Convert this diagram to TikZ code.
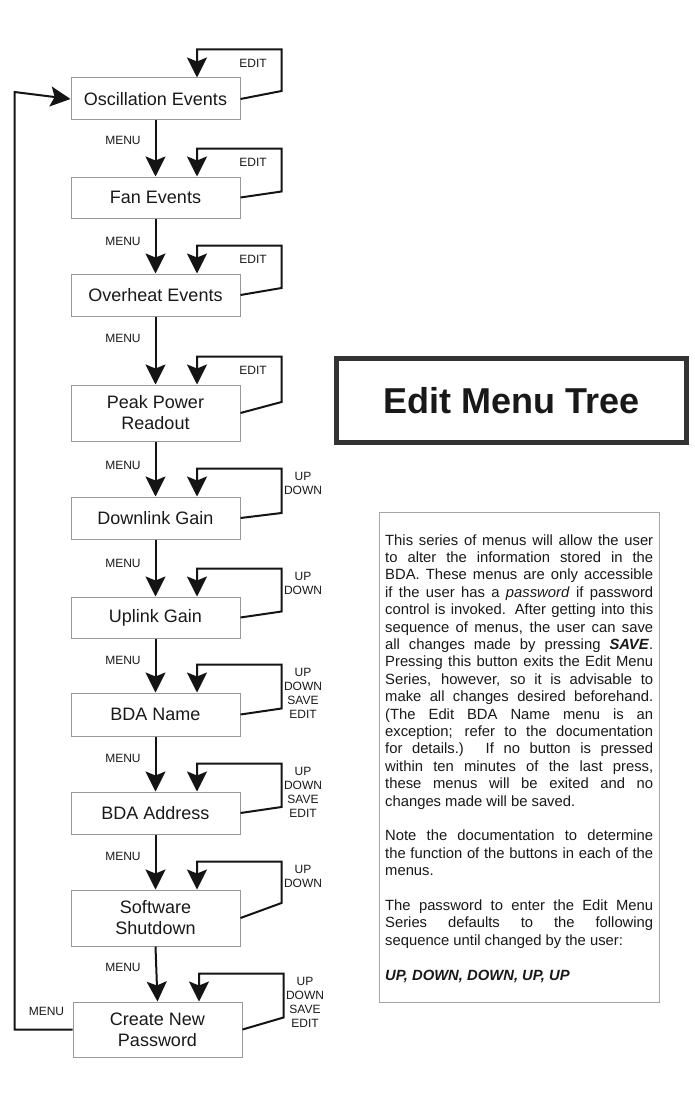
\documentclass[tikz,border=0pt]{standalone}
\usepackage{fontspec}
\setmainfont{Liberation Sans}
\usetikzlibrary{arrows.meta,calc}
\begin{document}
\begin{tikzpicture}[x=1pt,y=-1pt,
  menubox/.style={draw=black!40, line width=1pt, minimum width=169pt, inner sep=0pt, align=center, font=\fontsize{18}{21}\selectfont, text=black!90, fill=white},
  flow/.style={line width=2pt, draw=black!92, -{Stealth[length=20pt,width=20pt,inset=4pt]}},
  lbl/.style={font=\fontsize{12}{14}\selectfont, inner sep=0pt, align=center, text=black!90},
]
\useasboundingbox (0,0) rectangle (695,1097);
\fill[white] (0,0) rectangle (695,1097);

% menu boxes
\node[menubox, minimum height=42pt] (osc)  at (155.5,99)    {Oscillation Events};
\node[menubox, minimum height=41pt] (fan)  at (155.5,197.5) {Fan Events};
\node[menubox, minimum height=42pt] (over) at (155.5,295)   {Overheat Events};
\node[menubox, minimum height=56pt] (peak) at (155.5,413)   {Peak Power\\Readout};
\node[menubox, minimum height=42pt] (down) at (155.5,518)   {Downlink Gain};
\node[menubox, minimum height=41pt] (upg)  at (155.5,617.5) {Uplink Gain};
\node[menubox, minimum height=43pt] (name) at (155.5,714.5) {BDA Name};
\node[menubox, minimum height=42pt] (addr) at (155.5,813)   {BDA Address};
\node[menubox, minimum height=56pt] (soft) at (155.5,918)   {Software\\Shutdown};
\node[menubox, minimum height=55pt] (pass) at (157.5,1029.5){Create New\\Password};

% main MENU arrows
\draw[flow] (osc.south)  -- (fan.north);
\draw[flow] (fan.south)  -- (over.north);
\draw[flow] (over.south) -- (peak.north);
\draw[flow] (peak.south) -- (down.north);
\draw[flow] (down.south) -- (upg.north);
\draw[flow] (upg.south)  -- (name.north);
\draw[flow] (name.south) -- (addr.north);
\draw[flow] (addr.south) -- (soft.north);
\draw[flow] (soft.south) -- (pass.north);

\node[lbl] (m1) at ($(osc.south)+(-32.5,20)$)  {MENU};
\node[lbl] (m2) at ($(fan.south)+(-32.5,23)$)  {MENU};
\node[lbl] (m3) at ($(over.south)+(-32.5,22)$) {MENU};
\node[lbl] (m4) at ($(peak.south)+(-32.5,24)$) {MENU};
\node[lbl] (m5) at ($(down.south)+(-32.5,24)$) {MENU};
\node[lbl] (m6) at ($(upg.south)+(-32.5,22)$)  {MENU};
\node[lbl] (m7) at ($(name.south)+(-32.5,22)$) {MENU};
\node[lbl] (m8) at ($(addr.south)+(-32.5,22)$) {MENU};
\node[lbl] (m9) at ($(soft.south)+(-32.5,21)$) {MENU};

% self loops
\foreach \b/\d in {osc/8, fan/6, over/7, peak/11, down/5, upg/6, name/6, addr/6, soft/15, pass/12}{
  \draw[flow] (\b.east) -- ++(41,-\d) |- ($(\b.north)+(41.5,-28)$) -- ($(\b.north)+(41.5,0)$);
}

\foreach \b in {osc, fan, over, peak}{
  \node[lbl] (e-\b) at ($(\b.north)+(97.5,-14)$) {EDIT};
}
\foreach \b in {down, upg, soft}{
  \node[lbl, anchor=north] (k-\b) at ($(\b.north)+(147.5,-24)$) {UP\\DOWN};
}
\foreach \b in {name, addr, pass}{
  \node[lbl, anchor=north] (k-\b) at ($(\b.north)+(147.5,-24)$) {UP\\DOWN\\SAVE\\EDIT};
}

% feedback loop
\draw[flow] (pass.west) -| ($(osc.west)+(-56,-7)$) -- (osc.west);
\node[lbl] (m10) at ($(pass.west)+(-26,-18.5)$) {MENU};

% title
\node[draw=black!80, line width=5pt, minimum width=350pt, minimum height=84pt, inner sep=0pt,
      font=\fontsize{36}{40}\selectfont\bfseries, text=black!90] (title) at (511.5,400.5) {Edit Menu Tree};

% info box
\node[draw=black!35, line width=1pt, minimum width=280pt, minimum height=490pt, inner sep=0pt] (info) at (519,757) {};
\node[anchor=base west, text width=268pt, align=justify, inner sep=0pt,
      font=\fontsize{14.8}{17.4}\selectfont, text=black!90] (infotext) at (385,545) {%
\tolerance=10000 \hyphenpenalty=10000 \parskip=0pt
This series of menus will allow the user\linebreak
to alter the information stored in the\linebreak
BDA. These menus are only accessible\linebreak
if the user has a \textit{password} if password\linebreak
control is invoked. After getting into this\linebreak
sequence of menus, the user can save\linebreak
all changes made by pressing \textbf{\textit{SAVE}}.\linebreak
Pressing this button exits the Edit Menu\linebreak
Series, however, so it is advisable to\linebreak
make all changes desired beforehand.\linebreak
(The Edit BDA Name menu is an\linebreak
exception; refer to the documentation\linebreak
for details.) If no button is pressed\linebreak
within ten minutes of the last press,\linebreak
these menus will be exited and no\linebreak
changes made will be saved.\par\vskip17.4pt
Note the documentation to determine\linebreak
the function of the buttons in each of the\linebreak
menus.\par\vskip17.4pt
The password to enter the Edit Menu\linebreak
Series defaults to the following\linebreak
sequence until changed by the user:\par\vskip17.4pt
\textbf{\textit{UP, DOWN, DOWN, UP, UP}}\par};
\end{tikzpicture}
\end{document}
